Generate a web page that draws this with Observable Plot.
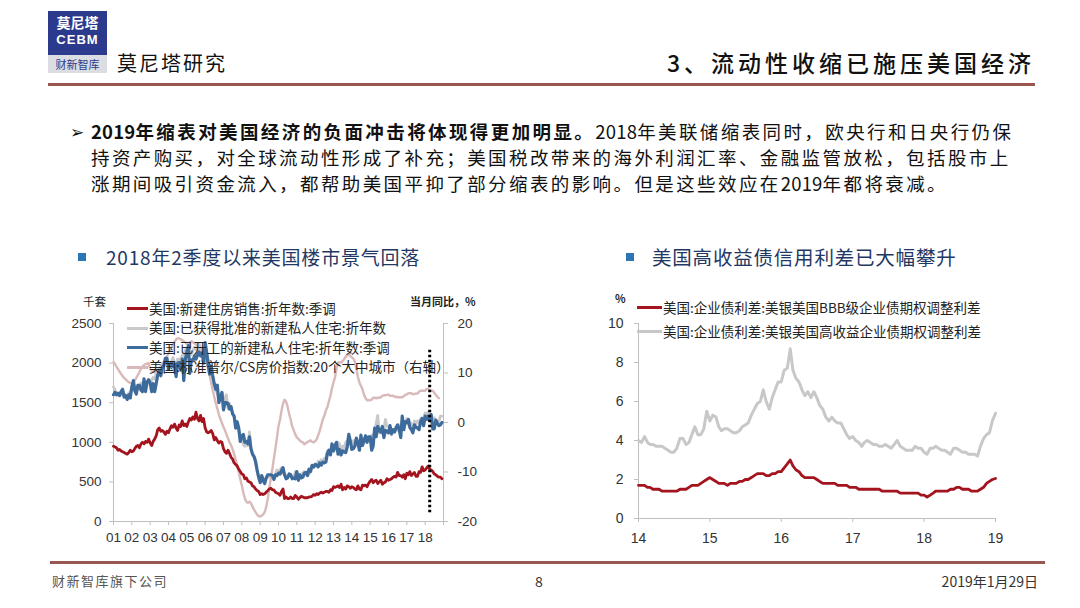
<!DOCTYPE html>
<html><head><meta charset="utf-8">
<script src="https://cdn.jsdelivr.net/npm/d3@7"></script>
<script src="https://cdn.jsdelivr.net/npm/@observablehq/plot@0.6"></script>
<style>
body{margin:0;background:#fff;}
#page{position:relative;width:1080px;height:608px;background:#fff;overflow:hidden;font-family:"Noto Sans CJK SC","Noto Sans",sans-serif;color:#222;}
.abs{position:absolute;white-space:nowrap;}
.sw{position:absolute;height:3px;}
.lg{position:absolute;white-space:nowrap;font-size:13.5px;line-height:18px;color:#222;}
.pl{position:absolute;left:91px;white-space:nowrap;font-size:18.5px;line-height:26px;letter-spacing:2.4px;color:#111;}
.pl .n{letter-spacing:0.2px;}
</style></head>
<body><div id="page">
  <!-- header -->
  <div class="abs" style="left:48px;top:11px;width:59px;height:44px;background:#2b3a8c;"></div>
  <div class="abs" style="left:48px;top:12px;width:59px;text-align:center;color:#fff;font-size:14px;line-height:20px;font-weight:700;">莫尼塔</div>
  <div class="abs" style="left:48px;top:31px;width:59px;text-align:center;color:#fff;font-size:13px;line-height:18px;font-family:'Liberation Sans',Arial,sans-serif;font-weight:700;letter-spacing:1px;">CEBM</div>
  <div class="abs" style="left:48px;top:55px;width:59px;height:18px;background:#dcdde3;"></div>
  <div class="abs" style="left:48px;top:55px;width:59px;text-align:center;color:#2b3a8c;font-size:11px;line-height:18px;">财新智库</div>
  <div class="abs" style="left:117px;top:49px;font-size:20px;line-height:28px;letter-spacing:2px;color:#111;">莫尼塔研究</div>
  <div class="abs" style="right:45px;top:46px;font-size:23px;line-height:32px;letter-spacing:4px;color:#111;font-weight:500;">3、流动性收缩已施压美国经济</div>
  <div class="abs" style="left:48px;top:83px;width:987px;height:3px;background:#9a5650;"></div>

  <!-- paragraph -->
  <div class="abs" style="left:70px;top:118px;font-size:17px;line-height:26px;color:#111;">➢</div>
  <div class="pl" style="top:118px;"><span style="font-weight:700;"><span class="n">2019</span>年缩表对美国经济的负面冲击将体现得更加明显。</span><span class="n">2018</span>年美联储缩表同时，欧央行和日央行仍保</div>
  <div class="pl" style="top:144px;">持资产购买，对全球流动性形成了补充；美国税改带来的海外利润汇率、金融监管放松，包括股市上</div>
  <div class="pl" style="top:170px;">涨期间吸引资金流入，都帮助美国平抑了部分缩表的影响。但是这些效应在<span class="n">2019</span>年都将衰减。</div>

  <!-- subtitles -->
  <div class="abs" style="left:78px;top:253px;width:8px;height:8px;background:#2e75b6;"></div>
  <div class="abs" style="left:106px;top:243px;font-size:19px;line-height:27px;letter-spacing:0.8px;color:#1f3864;">2018年2季度以来美国楼市景气回落</div>
  <div class="abs" style="left:626px;top:253px;width:8px;height:8px;background:#2e75b6;"></div>
  <div class="abs" style="left:652px;top:243px;font-size:19.5px;line-height:27px;letter-spacing:0.8px;color:#1f3864;">美国高收益债信用利差已大幅攀升</div>

  <!-- charts -->
  <div id="leftChart" class="abs" style="left:40px;top:290px;"></div>
  <div id="rightChart" class="abs" style="left:590px;top:290px;"></div>

  <!-- left chart labels & legend -->
  <div class="abs" style="left:83px;top:292px;font-size:11.5px;line-height:18px;color:#222;">千套</div>
  <div class="abs" style="left:410px;top:292px;font-size:11px;line-height:18px;color:#222;font-weight:700;">当月同比，%</div>
  <div class="sw" style="left:127px;top:307px;width:21px;background:#a3141f;"></div>
  <div class="lg" style="left:149px;top:299px;">美国:新建住房销售:折年数:季调</div>
  <div class="sw" style="left:127px;top:327px;width:21px;background:#c9c9cc;"></div>
  <div class="lg" style="left:149px;top:318px;">美国:已获得批准的新建私人住宅:折年数</div>
  <div class="sw" style="left:127px;top:346px;width:21px;background:#3d6b9c;"></div>
  <div class="lg" style="left:149px;top:338px;">美国:已开工的新建私人住宅:折年数:季调</div>
  <div class="sw" style="left:127px;top:366px;width:21px;background:#d9b9b9;"></div>
  <div class="lg" style="left:149px;top:357px;">美国:标准普尔/CS房价指数:20个大中城市（右轴）</div>

  <!-- right chart labels & legend -->
  <div class="abs" style="left:615px;top:289px;font-size:11px;line-height:18px;color:#222;font-weight:700;">%</div>
  <div class="sw" style="left:637px;top:306px;width:25px;background:#a3141f;"></div>
  <div class="lg" style="left:663px;top:298px;">美国:企业债利差:美银美国BBB级企业债期权调整利差</div>
  <div class="sw" style="left:637px;top:330px;width:25px;background:#c8c8c8;"></div>
  <div class="lg" style="left:663px;top:322px;">美国:企业债利差:美银美国高收益企业债期权调整利差</div>

  <!-- footer -->
  <div class="abs" style="left:50px;top:561px;width:995px;height:3px;background:#9a5650;"></div>
  <div class="abs" style="left:52px;top:571px;font-size:13px;line-height:20px;letter-spacing:1.5px;color:#555;">财新智库旗下公司</div>
  <div class="abs" style="left:535px;top:571px;font-size:14px;line-height:20px;color:#333;">8</div>
  <div class="abs" style="right:42px;top:571px;font-size:14px;line-height:20px;color:#333;">2019年1月29日</div>
</div>
<script>
// ---------- Left chart data (monthly, Jan 2001 onward) ----------
const newHomeSales = [
  [950,940,930,900,910,890,880,870,860,850,870,900],
  [880,890,920,950,960,930,980,1000,980,1010,1000,1040],
  [990,960,1010,1040,1080,1160,1180,1140,1150,1130,1100,1140],
  [1120,1170,1210,1190,1230,1180,1150,1220,1200,1270,1210,1230],
  [1200,1260,1300,1280,1320,1290,1380,1300,1270,1340,1260,1300],
  [1180,1130,1120,1130,1150,1110,1030,1060,1020,990,1010,1000],
  [920,880,860,900,860,810,790,740,720,700,660,630],
  [600,590,540,550,510,500,490,450,440,410,390,380],
  [340,350,340,350,370,390,410,420,400,400,370,360],
  [350,330,380,410,290,310,290,290,310,290,290,330],
  [310,280,300,320,310,300,300,300,310,310,320,340],
  [330,350,340,360,370,360,370,380,380,370,400,390],
  [440,430,440,450,430,470,400,430,410,450,440,420],
  [440,430,410,400,450,410,400,460,450,460,440,480],
  [510,530,490,510,520,480,500,520,470,490,500,540],
  [520,530,540,560,570,560,620,580,580,560,590,540],
  [610,590,630,580,600,620,570,570,630,620,690,640],
  [650,680,700,660,650,630,600,590,570,560,560,540]
];
const housingPermits = [
  [1700,1660,1610,1600,1620,1600,1600,1620,1570,1570,1620,1640],
  [1670,1740,1700,1640,1680,1720,1750,1720,1750,1760,1760,1790],
  [1780,1780,1820,1800,1870,1850,1860,1930,1940,1980,2000,2080],
  [1960,1950,2030,2070,2010,1970,2050,2050,2050,2100,2060,2170],
  [2100,2170,2160,2110,2160,2200,2170,2180,2250,2180,2180,2080],
  [2200,2120,2050,1910,1850,1760,1720,1650,1620,1540,1560,1630],
  [1570,1540,1600,1430,1490,1420,1370,1320,1240,1200,1150,1070],
  [1030,970,950,980,960,1130,920,860,810,740,630,560],
  [530,550,510,500,540,580,560,580,580,560,590,650],
  [630,650,680,610,590,580,580,570,580,550,560,630],
  [560,540,590,560,620,630,600,630,600,660,690,680],
  [700,720,760,720,780,760,800,800,890,870,900,920],
  [930,960,910,1000,980,910,950,920,1000,1020,1030,1010],
  [960,1020,1000,1060,990,970,1050,1000,1030,1090,1030,1050],
  [1060,1090,1040,1140,1240,1340,1120,1160,1110,1150,1290,1200],
  [1200,1180,1090,1130,1150,1160,1150,1150,1230,1230,1190,1250],
  [1300,1220,1260,1230,1160,1270,1230,1270,1250,1300,1300,1310],
  [1370,1320,1380,1360,1300,1290,1310,1250,1270,1260,1330,1330]
];
const housingStarts = [
  [1600,1630,1600,1620,1590,1640,1670,1570,1590,1540,1600,1560],
  [1700,1780,1650,1610,1720,1720,1660,1640,1800,1640,1760,1790],
  [1750,1640,1740,1640,1740,1850,1900,1840,1950,1970,2060,2060],
  [1920,1990,2000,1960,1990,1830,2000,2010,1910,2050,1780,2040],
  [2140,2220,1870,2040,2030,2090,2050,2100,2140,2090,2130,2000],
  [2260,2130,1980,1860,1960,1840,1740,1670,1720,1500,1570,1630],
  [1410,1500,1500,1490,1420,1450,1360,1330,1180,1260,1180,1010],
  [1080,1100,1000,1010,980,1070,920,850,820,760,650,560],
  [490,580,520,480,550,590,590,590,580,530,590,580],
  [610,600,640,680,590,540,550,600,590,540,550,540],
  [630,520,590,550,560,610,620,580,660,630,710,690],
  [720,710,690,740,710,750,740,750,860,900,840,980],
  [890,960,1000,850,910,840,890,880,870,940,1100,1020],
  [910,920,950,1050,990,900,1090,960,1020,1080,1000,1070],
  [1070,900,950,1180,1070,1200,1150,1130,1200,1060,1150,1140],
  [1120,1210,1110,1160,1130,1190,1220,1160,1060,1330,1160,1260],
  [1250,1290,1190,1160,1120,1220,1190,1180,1160,1260,1300,1210],
  [1330,1290,1330,1280,1350,1170,1170,1280,1240,1210,1220,1250]
];
const caseShillerYoY = [ // right axis, %
  [12.2,11.8,11.3,10.8,10.3,9.8,9.4,9.0,8.7,8.4,8.2,8.0],
  [7.9,8.0,8.5,9.0,9.6,10.2,10.8,11.3,11.6,11.8,11.9,12.0],
  [10.8,10.5,10.3,10.2,10.4,10.6,11.0,11.4,11.8,12.2,12.8,13.4],
  [14.0,14.6,15.2,15.8,16.3,16.8,17.0,17.0,16.8,16.6,16.4,16.2],
  [15.8,15.9,16.2,16.4,16.2,16.0,15.8,15.4,15.0,14.6,14.2,13.8],
  [13.0,12.0,10.8,9.5,8.0,6.5,5.2,3.9,2.8,1.6,0.7,-0.1],
  [-0.9,-1.6,-2.4,-3.2,-4.0,-4.6,-5.4,-6.4,-7.5,-8.8,-10.0,-11.4],
  [-12.7,-14.2,-15.3,-16.0,-16.2,-16.0,-16.3,-17.0,-17.6,-18.1,-18.6,-18.9],
  [-19.0,-18.8,-18.6,-18.1,-17.1,-15.4,-13.3,-11.3,-9.4,-7.3,-5.2,-3.1],
  [-0.7,0.6,2.3,3.8,4.6,4.2,3.2,1.7,0.6,-0.8,-1.6,-2.4],
  [-3.0,-3.3,-3.6,-3.9,-4.0,-4.4,-4.2,-3.9,-3.8,-3.6,-3.9,-4.0],
  [-3.8,-3.4,-2.6,-1.7,-0.6,0.6,1.3,2.4,3.1,4.3,5.4,6.9],
  [8.1,9.2,10.8,12.1,12.2,12.1,12.4,12.8,13.3,13.6,13.7,13.4],
  [13.2,12.9,12.3,10.8,9.3,8.1,7.4,6.7,5.6,4.9,4.5,4.5],
  [4.5,4.6,5.0,5.0,4.9,5.0,5.0,5.1,5.4,5.5,5.5,5.6],
  [5.6,5.4,5.4,5.4,5.2,5.2,5.1,5.1,5.1,5.1,5.3,5.6],
  [5.7,5.9,5.9,5.9,5.7,5.8,5.8,5.9,6.2,6.4,6.4,6.4],
  [6.4,6.8,6.8,6.6,6.4,6.4,6.0,5.6,5.2,4.9]
];
const leftTicks = [0, 500, 1000, 1500, 2000, 2500];
const rightTicks = [-20, -10, 0, 10, 20];
const leftYears = [2001, 2019];
const markerLine = [{date: "2018-04-01", from: 110, to: 2180}];

// ---------- Right chart data (semi-monthly, Jan 2014 onward) ----------
const bbbSpread = [
  [1.7,1.7,1.7,1.6,1.6,1.5,1.5,1.5,1.4,1.4,1.4,1.4,1.4,1.4,1.5,1.5,1.5,1.6,1.7,1.7,1.7,1.8,1.9,2.0],
  [2.1,2.0,1.9,1.8,1.8,1.8,1.7,1.8,1.8,1.8,1.9,1.9,2.0,2.0,2.1,2.2,2.3,2.3,2.3,2.2,2.2,2.3,2.3,2.4],
  [2.4,2.6,2.8,3.0,2.7,2.5,2.4,2.2,2.1,2.1,2.1,2.1,2.0,1.9,1.8,1.8,1.8,1.8,1.8,1.7,1.7,1.7,1.7,1.6],
  [1.6,1.6,1.5,1.5,1.5,1.5,1.5,1.5,1.5,1.5,1.4,1.4,1.4,1.4,1.4,1.4,1.3,1.3,1.3,1.3,1.3,1.3,1.3,1.2],
  [1.2,1.1,1.2,1.3,1.4,1.4,1.4,1.4,1.4,1.5,1.5,1.6,1.6,1.5,1.5,1.5,1.4,1.4,1.4,1.5,1.6,1.8,1.9,2.0],
  [2.05]
];
const hySpread = [
  [4.0,3.9,4.2,3.9,3.8,3.8,3.7,3.7,3.7,3.6,3.5,3.4,3.4,3.6,4.1,4.1,3.8,3.9,4.3,4.7,4.3,4.3,4.6,5.5],
  [5.0,5.3,5.2,4.7,4.5,4.6,4.6,4.5,4.4,4.4,4.5,4.7,4.8,4.9,5.3,5.6,5.9,6.0,6.6,6.0,5.6,6.2,6.6,7.0],
  [7.0,7.6,7.7,8.7,7.6,7.2,7.0,6.6,6.3,6.5,6.2,6.5,6.2,5.8,5.6,5.2,5.0,5.2,5.0,4.9,4.9,4.6,4.3,4.1],
  [4.2,4.0,3.9,3.7,3.9,4.0,3.9,3.8,3.8,3.7,3.7,3.8,3.7,3.6,3.8,4.0,3.7,3.6,3.5,3.5,3.5,3.7,3.6,3.6],
  [3.4,3.3,3.6,3.6,3.7,3.6,3.5,3.5,3.4,3.3,3.6,3.6,3.5,3.4,3.4,3.3,3.3,3.3,3.2,3.7,4.1,4.3,4.4,5.0],
  [5.4]
];
const spreadTicks = [0, 2, 4, 6, 8, 10];
const rightYears = [2014, 2019];

// ---------- helpers ----------
const Y = y => new Date(Date.UTC(y, 0, 1));
const monthly = (rows, startYear) => rows.flat().map((v, i) => ({date: d3.utcMonth.offset(Y(startYear), i), v}));
const semiMonthly = (rows, startYear) => rows.flat().map((v, i) => {
  const m = d3.utcMonth.offset(Y(startYear), Math.floor(i / 2));
  return {date: i % 2 ? d3.utcDay.offset(m, 15) : m, v};
});
// right-axis (%) to left-axis units, sharing the same pixel range
const toLeft = r => (r - rightTicks[0]) / (rightTicks[rightTicks.length - 1] - rightTicks[0]) * leftTicks[leftTicks.length - 1];
const fromLeft = l => rightTicks[0] + l / leftTicks[leftTicks.length - 1] * (rightTicks[rightTicks.length - 1] - rightTicks[0]);

const salesData = monthly(newHomeSales, leftYears[0]);
const permitData = monthly(housingPermits, leftYears[0]);
const startData = monthly(housingStarts, leftYears[0]);
const csData = monthly(caseShillerYoY, leftYears[0]).map(d => ({date: d.date, v: toLeft(d.v)}));
const markerData = markerLine.map(d => ({date: new Date(d.date), y1: d.from, y2: d.to}));

const axisCol = "#bfbfbf";
const leftYearTicks = d3.utcYear.range(Y(leftYears[0]), d3.utcDay.offset(Y(leftYears[1]), 1));

const left = Plot.plot({
  width: 450, height: 260,
  marginLeft: 73, marginRight: 47, marginTop: 33, marginBottom: 29,
  x: {type: "utc", domain: [Y(leftYears[0]), Y(leftYears[1])]},
  y: {domain: [leftTicks[0], leftTicks[leftTicks.length - 1]]},
  style: {fontFamily: "'Liberation Sans', Arial, sans-serif", fontSize: "13.5px", color: "#333", background: "transparent", overflow: "visible"},
  marks: [
    Plot.axisY({ticks: leftTicks, tickFormat: d => String(d), tickSize: 4, tickPadding: 8, label: null, stroke: axisCol, fill: "#333"}),
    Plot.axisY({anchor: "right", ticks: rightTicks.map(toLeft), tickFormat: v => String(Math.round(fromLeft(v))), tickSize: 4, tickPadding: 10, label: null, stroke: axisCol, fill: "#333"}),
    Plot.axisX({ticks: leftYearTicks, tickFormat: d => d.getUTCFullYear() < leftYears[1] ? d3.utcFormat("%y")(d) : "", tickSize: 4, tickPadding: 7, label: null, stroke: axisCol, fill: "#333"}),
    Plot.ruleY([leftTicks[0]], {stroke: axisCol}),
    Plot.ruleX([Y(leftYears[0]), Y(leftYears[1])], {stroke: axisCol}),
    Plot.lineY(csData, {x: "date", y: "v", stroke: "#d9b9b9", strokeWidth: 2.4}),
    Plot.lineY(permitData, {x: "date", y: "v", stroke: "#c9c9cc", strokeWidth: 2.8}),
    Plot.lineY(startData, {x: "date", y: "v", stroke: "#3d6b9c", strokeWidth: 3.2}),
    Plot.lineY(salesData, {x: "date", y: "v", stroke: "#a3141f", strokeWidth: 2.8}),
    Plot.ruleX(markerData, {x: "date", y1: "y1", y2: "y2", stroke: "#000", strokeWidth: 3, strokeDasharray: "2.5,2.5"})
  ]
});
document.getElementById("leftChart").appendChild(left);

const bbbData = semiMonthly(bbbSpread, rightYears[0]);
const hyData = semiMonthly(hySpread, rightYears[0]);
const rightYearTicks = d3.utcYear.range(Y(rightYears[0]), d3.utcDay.offset(Y(rightYears[1]), 1));

const right = Plot.plot({
  width: 430, height: 260,
  marginLeft: 48, marginRight: 25, marginTop: 33, marginBottom: 32,
  x: {type: "utc", domain: [Y(rightYears[0]), Y(rightYears[1])]},
  y: {domain: [spreadTicks[0], spreadTicks[spreadTicks.length - 1]]},
  style: {fontFamily: "'Liberation Sans', Arial, sans-serif", fontSize: "14px", color: "#333", background: "transparent", overflow: "visible"},
  marks: [
    Plot.axisY({ticks: spreadTicks, tickSize: 4, tickPadding: 11, label: null, stroke: axisCol, fill: "#333"}),
    Plot.axisX({ticks: rightYearTicks, tickFormat: d3.utcFormat("%y"), tickSize: 4, tickPadding: 11, label: null, stroke: axisCol, fill: "#333"}),
    Plot.ruleY([spreadTicks[0]], {stroke: axisCol}),
    Plot.ruleX([Y(rightYears[0])], {stroke: axisCol}),
    Plot.lineY(hyData, {x: "date", y: "v", stroke: "#c8c8c8", strokeWidth: 3}),
    Plot.lineY(bbbData, {x: "date", y: "v", stroke: "#a3141f", strokeWidth: 2.8})
  ]
});
document.getElementById("rightChart").appendChild(right);
</script>
</body></html>
